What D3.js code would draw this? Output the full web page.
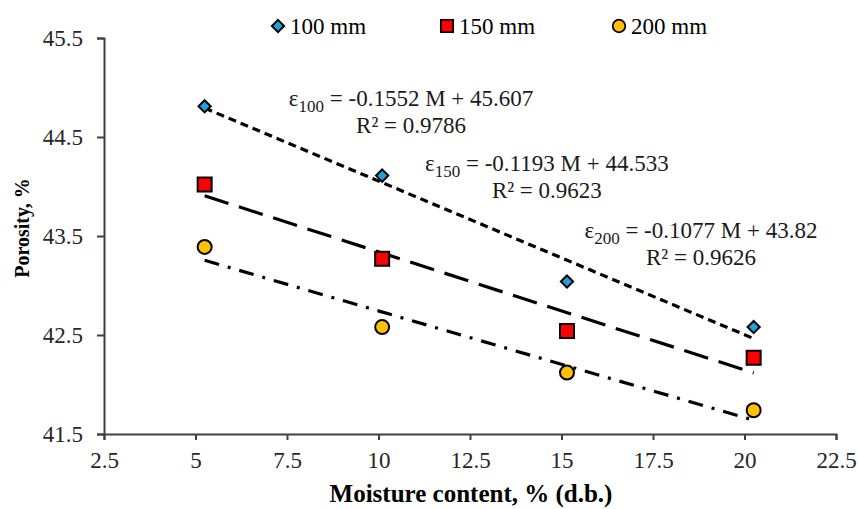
<!DOCTYPE html>
<html>
<head>
<meta charset="utf-8">
<script src="https://cdn.jsdelivr.net/npm/d3@7"></script>
<style>
	body { margin: 0; background: #fff; }
	text { font-family: "Liberation Serif", "Times New Roman", serif; }
</style>
</head>
<body>
<div id="chart"></div>
<script>
// data
var moisture100 = [5.25, 10.1, 15.15, 20.25]
var porosity100 = [44.81, 44.11, 43.04, 42.58]
var moisture150 = [5.25, 10.1, 15.15, 20.25]
var porosity150 = [44.02, 43.27, 42.54, 42.27]
var moisture200 = [5.25, 10.1, 15.15, 20.25]
var porosity200 = [43.39, 42.58, 42.12, 41.74]

var seriesNames = ["100 mm", "150 mm", "200 mm"]
var seriesSub = ["100", "150", "200"]
var slopes = [-0.1552, -0.1193, -0.1077]
var intercepts = [45.607, 44.533, 43.82]
var slopeText = ["-0.1552", "-0.1193", "-0.1077"]
var interceptText = ["45.607", "44.533", "43.82"]
var r2Text = ["0.9786", "0.9623", "0.9626"]

var xTicks = [2.5, 5, 7.5, 10, 12.5, 15, 17.5, 20, 22.5]
var yTicks = [41.5, 42.5, 43.5, 44.5, 45.5]

function init() {
	var width = 858
	var height = 509
	var left = 104, right = 836, top = 38, bottom = 434
	var fontSize = 23
	var axisColor = "#404040"

	var svg = d3.select("#chart")
		.append("svg")
		.attr("width", width)
		.attr("height", height);

	var x = d3.scaleLinear().domain([2.5, 22.5]).range([left, right]);
	var y = d3.scaleLinear().domain([41.5, 45.5]).range([bottom, top]);

	// axes
	var xAxis = svg.append("g")
		.attr("transform", "translate(0," + bottom + ")")
		.call(d3.axisBottom(x).tickValues(xTicks).tickSize(6).tickPadding(12).tickFormat(d3.format("")));
	var yAxis = svg.append("g")
		.attr("transform", "translate(" + left + ",0)")
		.call(d3.axisLeft(y).tickValues(yTicks).tickSize(7).tickPadding(14).tickFormat(d3.format(".1f")));

	[xAxis, yAxis].forEach(function (a) {
		a.select(".domain").attr("stroke", axisColor).attr("stroke-width", 2);
		a.selectAll(".tick line").attr("stroke", axisColor).attr("stroke-width", 2);
		a.selectAll(".tick text")
			.attr("fill", "#262626")
			.style("font-family", "Liberation Serif")
			.style("font-size", fontSize + "px");
	});

	// axis titles
	svg.append("text")
		.attr("x", 471)
		.attr("y", 502)
		.attr("text-anchor", "middle")
		.style("font-size", "25px")
		.style("font-weight", "bold")
		.text("Moisture content, % (d.b.)");

	svg.append("text")
		.attr("transform", "translate(29,228) rotate(-90)")
		.attr("text-anchor", "middle")
		.style("font-size", "20px")
		.style("font-weight", "bold")
		.text("Porosity, %");

	var series = [
		{ xs: moisture100, ys: porosity100, shape: "diamond", fill: "#1aa3dd", dash: "8,5" },
		{ xs: moisture150, ys: porosity150, shape: "square", fill: "#ff0000", dash: "25,11" },
		{ xs: moisture200, ys: porosity200, shape: "circle", fill: "#ffc000", dash: "15,9,3,9" }
	]

	function drawMarker(g, shape, fill) {
		if (shape == "diamond") {
			g.append("path")
				.attr("d", d3.symbol().type(d3.symbolDiamond2).size(95)())
				.attr("fill", fill).attr("stroke", "#000").attr("stroke-width", 2);
		} else if (shape == "square") {
			g.append("rect")
				.attr("x", -7).attr("y", -7).attr("width", 14).attr("height", 14)
				.attr("fill", fill).attr("stroke", "#000").attr("stroke-width", 2);
		} else {
			g.append("circle")
				.attr("r", 7)
				.attr("fill", fill).attr("stroke", "#000").attr("stroke-width", 2);
		}
	}

	// trend lines
	series.forEach(function (s, i) {
		var ends = [s.xs[0], s.xs[s.xs.length - 1]];
		svg.append("path")
			.datum(ends)
			.attr("fill", "none")
			.attr("stroke", "#000")
			.attr("stroke-width", 3.2)
			.attr("stroke-dasharray", s.dash)
			.attr("d", d3.line()
				.x(function (d) { return x(d) })
				.y(function (d) { return y(intercepts[i] + slopes[i] * d) })
			);
	});

	// points
	series.forEach(function (s) {
		s.xs.forEach(function (mx, j) {
			var g = svg.append("g")
				.attr("transform", "translate(" + x(mx) + "," + y(s.ys[j]) + ")");
			drawMarker(g, s.shape, s.fill);
		});
	});

	// legend
	var legendX = [278, 447, 619]
	var legendScale = [1, 0.88, 0.9]
	seriesNames.forEach(function (name, i) {
		var g = svg.append("g").attr("transform", "translate(" + legendX[i] + ",26)");
		var m = g.append("g").attr("transform", "scale(" + legendScale[i] + ")");
		drawMarker(m, series[i].shape, series[i].fill);
		g.append("text")
			.attr("x", 12)
			.attr("y", 7.5)
			.style("font-size", fontSize + "px")
			.attr("fill", "#000")
			.text(name);
	});

	// equations (anchor in data units)
	var eqX = [10.89, 14.6, 18.81]
	var eqY = [44.813, 44.16, 43.48]
	var eqGap = ["", " ", ""]
	slopes.forEach(function (s, i) {
		var t = svg.append("text")
			.attr("x", x(eqX[i]))
			.attr("y", y(eqY[i]))
			.attr("text-anchor", "middle")
			.attr("fill", "#1a1a1a")
			.style("font-size", "23px");
		t.append("tspan").text("ε");
		t.append("tspan").attr("dy", 6).style("font-size", "17px").text(seriesSub[i]);
		t.append("tspan").attr("dy", -6).text(eqGap[i] + " = " + slopeText[i] + " M + " + interceptText[i]);

		svg.append("text")
			.attr("x", x(eqX[i]))
			.attr("y", y(eqY[i]) + 27)
			.attr("text-anchor", "middle")
			.attr("fill", "#1a1a1a")
			.style("font-size", "23px")
			.text("R² = " + r2Text[i]);
	});
}

init()
</script>
</body>
</html>
